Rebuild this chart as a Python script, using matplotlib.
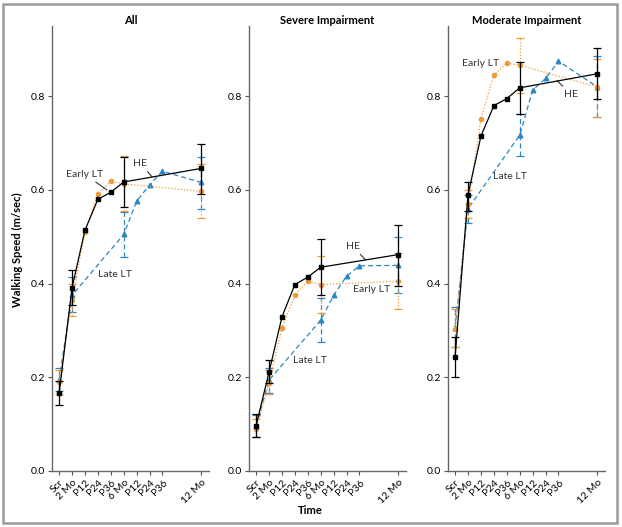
import matplotlib
matplotlib.use('Agg')
import matplotlib.pyplot as plt
from matplotlib.patches import Rectangle
import numpy as np

plt.rcParams['font.family'] = ['Lato', 'DejaVu Sans']

# time axis
tick_labels = ['Scr', '2 Mo', 'P12', 'P24', 'P36', '6 Mo', 'P12', 'P24', 'P36', '12 Mo']
tick_pos = [0, 1, 2, 3, 4, 5, 6, 7, 8, 11]
he_pos = [0, 1, 2, 3, 4, 5, 11]
early_pos = [0, 1, 2, 3, 4, 5, 11]
late_pos = [0, 1, 5, 6, 7, 8, 11]
err_pos = [0, 1, 5, 11]   # Scr, 2 Mo, 6 Mo, 12 Mo

titles = ['All', 'Severe Impairment', 'Moderate Impairment']

# All
he_all = [0.166, 0.391, 0.514, 0.580, 0.595, 0.617, 0.646]
early_all = [0.190, 0.365, 0.510, 0.592, 0.619, 0.613, 0.597]
late_all = [0.195, 0.375, 0.505, 0.576, 0.611, 0.640, 0.616]
he_all_lo = [0.141, 0.355, 0.563, 0.592]
he_all_hi = [0.192, 0.429, 0.670, 0.699]
early_all_lo = [0.165, 0.330, 0.555, 0.541]
early_all_hi = [0.215, 0.400, 0.672, 0.655]
late_all_lo = [0.170, 0.340, 0.457, 0.559]
late_all_hi = [0.220, 0.415, 0.552, 0.670]

# Severe
he_sev = [0.097, 0.211, 0.329, 0.398, 0.414, 0.435, 0.462]
early_sev = [0.090, 0.188, 0.305, 0.375, 0.406, 0.398, 0.405]
late_sev = [0.096, 0.194, 0.322, 0.375, 0.416, 0.438, 0.439]
he_sev_lo = [0.073, 0.188, 0.375, 0.396]
he_sev_hi = [0.122, 0.236, 0.495, 0.525]
early_sev_lo = [0.072, 0.165, 0.337, 0.345]
early_sev_hi = [0.110, 0.215, 0.458, 0.465]
late_sev_lo = [0.073, 0.167, 0.276, 0.379]
late_sev_hi = [0.120, 0.220, 0.370, 0.500]

# Moderate
he_mod = [0.244, 0.590, 0.715, 0.780, 0.795, 0.818, 0.848]
early_mod = [0.304, 0.570, 0.752, 0.845, 0.871, 0.866, 0.820]
late_mod = [0.306, 0.560, 0.717, 0.813, 0.838, 0.875, 0.820]
he_mod_lo = [0.201, 0.555, 0.762, 0.794]
he_mod_hi = [0.287, 0.617, 0.873, 0.904]
early_mod_lo = [0.265, 0.540, 0.806, 0.755]
early_mod_hi = [0.345, 0.600, 0.925, 0.880]
late_mod_lo = [0.265, 0.530, 0.673, 0.755]
late_mod_hi = [0.350, 0.590, 0.762, 0.887]

panels = [
    (he_all, early_all, late_all, he_all_lo, he_all_hi, early_all_lo, early_all_hi, late_all_lo, late_all_hi),
    (he_sev, early_sev, late_sev, he_sev_lo, he_sev_hi, early_sev_lo, early_sev_hi, late_sev_lo, late_sev_hi),
    (he_mod, early_mod, late_mod, he_mod_lo, he_mod_hi, early_mod_lo, early_mod_hi, late_mod_lo, late_mod_hi),
]

# label text (x, y) and leader target per panel
labels = [
    [('Early LT', (1.95, 0.634), (3.7, 0.600)), ('HE', (6.28, 0.657), (7.2, 0.628)), ('Late LT', (4.34, 0.420), None)],
    [('HE', (7.46, 0.480), (8.46, 0.451)), ('Early LT', (8.9, 0.388), None), ('Late LT', (4.15, 0.235), None)],
    [('Early LT', (1.94, 0.870), None), ('HE', (9.0, 0.804), (7.9, 0.833)), ('Late LT', (4.26, 0.629), None)],
]

c_he = 'black'
c_early = '#EE9A3A'
c_late = '#2A86C4'

W, H = 622, 527
fig = plt.figure(figsize=(W / 100, H / 100), dpi=100)
fig.patches.append(Rectangle((3 / W, 4 / H), 614 / W, 519 / H, transform=fig.transFigure,
                             fill=False, edgecolor='#9a9a9a', linewidth=1.8))

lefts = [52, 249, 448]
for k in range(3):
    ax = fig.add_axes([lefts[k] / W, 56 / H, 157 / W, 445 / H])
    he, early, late, hl, hh, el, eh, ll, lh = panels[k]

    def draw(pos, vals, lo, hi, color, ls, marker, ms, z):
        ax.plot(pos, vals, color=color, linestyle=ls, linewidth=0.9, marker=marker,
                markersize=ms, zorder=z)
        idx = [pos.index(p) for p in err_pos]
        v = np.array([vals[i] for i in idx])
        yerr = [v - np.array(lo), np.array(hi) - v]
        eb = ax.errorbar(err_pos, v, yerr=yerr, fmt='none', ecolor=color, elinewidth=0.9,
                         capsize=3, capthick=0.9, zorder=z)
        eb[2][0].set_linestyle(ls)

    draw(late_pos, late, ll, lh, c_late, (0, (4, 2.5)), '^', 3.3, 2)
    draw(early_pos, early, el, eh, c_early, (0, (1, 1.5)), 'o', 3.0, 3)
    draw(he_pos, he, hl, hh, c_he, '-', 's', 3.2, 4)

    for txt, xyt, xy in labels[k]:
        if xy is None:
            ax.text(xyt[0], xyt[1], txt, fontsize=7.5, ha='center', va='center', color='#333333')
        else:
            ax.annotate(txt, xy=xy, xytext=xyt, fontsize=7.5, ha='center', va='center',
                        color='#333333',
                        arrowprops=dict(arrowstyle='-', color='#333333', lw=0.8, shrinkA=1, shrinkB=0))

    ax.set_xlim(-0.55, 11.6)
    ax.set_ylim(0, 0.95)
    ax.set_yticks([0.0, 0.2, 0.4, 0.6, 0.8])
    ax.set_yticklabels(['0.0', '0.2', '0.4', '0.6', '0.8'])
    ax.set_xticks(tick_pos)
    ax.set_xticklabels(tick_labels, rotation=45, ha='right', rotation_mode='anchor')
    ax.tick_params(labelsize=7.5, length=3, width=0.8, color='#555555', pad=2)
    for s in ['top', 'right']:
        ax.spines[s].set_visible(False)
    for s in ['left', 'bottom']:
        ax.spines[s].set_color('#666666')
        ax.spines[s].set_linewidth(1.0)
    ax.set_title(titles[k], fontsize=8, fontweight='bold', pad=1)

fig.text(17 / W, 1 - 250 / H, 'Walking Speed (m/sec)', rotation=90, fontsize=8,
         fontweight='bold', ha='center', va='center')
fig.text(310 / W, 1 - 510 / H, 'Time', fontsize=8, fontweight='bold', ha='center', va='center')

fig.savefig('out.png', dpi=100)
